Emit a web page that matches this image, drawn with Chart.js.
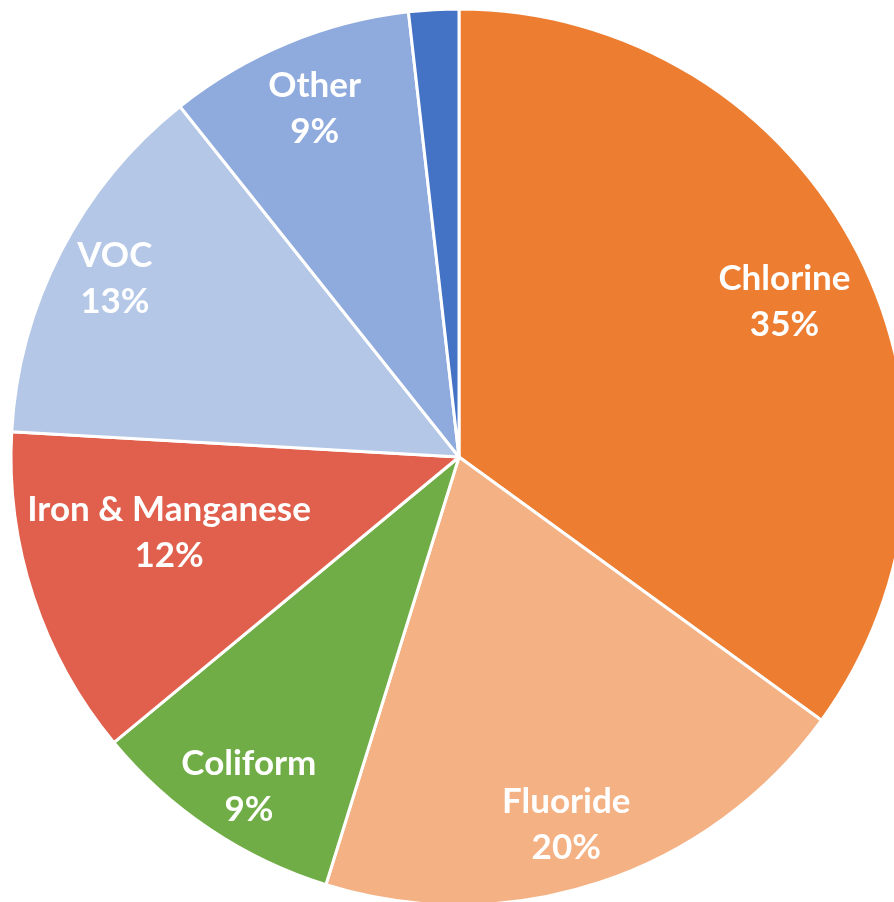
<!DOCTYPE html>
<html>
<head>
<meta charset="utf-8">
<script src="https://cdn.jsdelivr.net/npm/chart.js@4/dist/chart.umd.min.js"></script>
<style>
  html, body { margin: 0; padding: 0; background: #fff; overflow: hidden; }
</style>
</head>
<body>
<canvas id="pie" width="916" height="902"></canvas>
<script>
const categories = ['Chlorine', 'Fluoride', 'Coliform', 'Iron & Manganese', 'VOC', 'Other', ''];
const shares = [35, 19.8, 9.2, 11.9, 13.4, 8.9, 1.8];
const sliceColors = ['#ED7D31', '#F4B183', '#70AD47', '#E0604D', '#B4C7E7', '#8FAADC', '#4472C4'];
// label placement: share of the radius, and a small turn (degrees) off the slice middle
const labelRadius = [0.805, 0.855, 0.872, 0.669, 0.865, 0.842, 0];
const labelTurn = [1.5, 2.1, -1.3, 3.5, 0, 0, 0];

const sliceLabels = {
  id: 'sliceLabels',
  afterDatasetsDraw(chart) {
    const ctx = chart.ctx;
    const meta = chart.getDatasetMeta(0);
    const total = shares.reduce((a, b) => a + b, 0);
    ctx.save();
    ctx.fillStyle = '#fff';
    ctx.font = 'bold 35px Lato';
    ctx.textAlign = 'center';
    ctx.textBaseline = 'middle';
    meta.data.forEach((arc, i) => {
      if (!categories[i]) return;
      const { x, y, startAngle, endAngle, outerRadius } = arc.getProps(['x', 'y', 'startAngle', 'endAngle', 'outerRadius'], true);
      const mid = (startAngle + endAngle) / 2 + labelTurn[i] * Math.PI / 180;
      const r = outerRadius * labelRadius[i];
      const cx = x + Math.cos(mid) * r;
      const cy = y + Math.sin(mid) * r;
      const pct = Math.round(shares[i] / total * 100) + '%';
      ctx.fillText(categories[i], cx, cy - 23);
      ctx.fillText(pct, cx, cy + 23);
    });
    ctx.restore();
  }
};

new Chart(document.getElementById('pie').getContext('2d'), {
  type: 'pie',
  data: {
    labels: categories,
    datasets: [{
      data: shares,
      backgroundColor: sliceColors,
      borderColor: '#fff',
      borderWidth: 3,
      radius: 448,
    }],
  },
  options: {
    responsive: false,
    animation: false,
    layout: { padding: { left: 13, right: 11, top: 12, bottom: 0 } },
    plugins: {
      legend: { display: false },
      tooltip: { enabled: false },
    },
  },
  plugins: [sliceLabels],
});
</script>
</body>
</html>
